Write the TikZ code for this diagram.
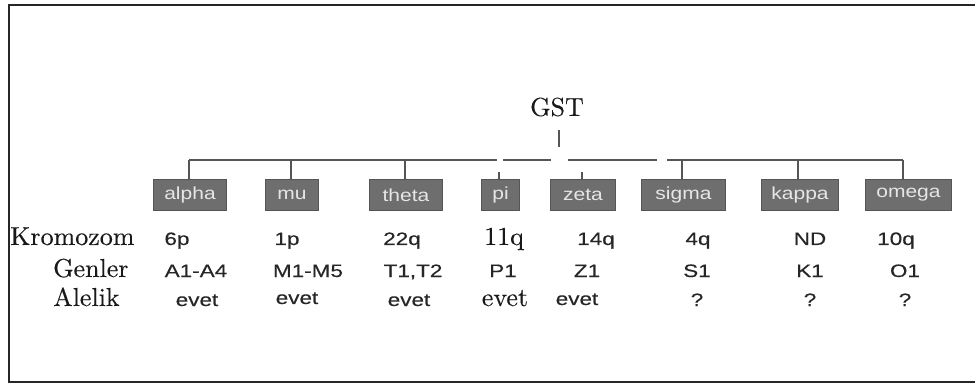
\documentclass[tikz,border=0pt]{standalone}
\usepackage{fontspec}
\usepackage{graphicx}
\setsansfont{Liberation Sans}
\newfontfamily\serifface{lmroman10-regular.otf}[FakeBold=0.2]
\newfontfamily\valface{Liberation Sans}[FakeBold=0.3]
\definecolor{boxfill}{HTML}{6E6E6E}
\definecolor{boxedge}{HTML}{555555}
\definecolor{boxtext}{HTML}{E6E6E6}
\definecolor{linecol}{HTML}{555555}
\begin{document}
\begin{tikzpicture}[x=1pt,y=-1pt,
  genebox/.style={fill=boxfill,draw=boxedge,line width=1pt,text=boxtext,
    minimum height=31pt,inner sep=0pt,anchor=north west,
    font=\sffamily\fontsize{17.5}{19}\selectfont},
  serifl/.style={inner sep=0pt,anchor=base,font=\serifface\fontsize{26}{30}\selectfont,text=black!90},
  rowlabel/.style={serifl,anchor=base west},
  val/.style={inner sep=0pt,anchor=base,font=\valface\fontsize{18}{20}\selectfont,text=black!85},
  tree/.style={draw=linecol,line width=1.3pt},
  frame/.style={draw=black!85,line width=2.2pt}]
\useasboundingbox (0,0) rectangle (975,390);
% frame (right side runs off the picture)
\coordinate (f1) at (985,5);
\coordinate (f2) at (9,5);
\coordinate (f3) at (9,382);
\coordinate (f4) at (985,382);
\draw[frame] (f1) -- (f2) -- (f3) -- (f4);
% root
\node[serifl,anchor=center] (gst) at (557,107) {GST};
\coordinate (s1) at (559,130);
\coordinate (s2) at (559,147);
\draw[tree] (s1) -- (s2);
% boxes
\node[genebox,minimum width=73pt] (alpha) at (153,179) {\scalebox{1.2}[1]{alpha}};
\node[genebox,minimum width=53pt] (mu) at (265,179) {\scalebox{1.2}[1]{mu}};
\node[genebox,minimum width=73pt] (theta) at (369,179) {\scalebox{1.2}[1]{theta}};
\node[genebox,minimum width=38pt] (pi) at (481,179) {\scalebox{1.2}[1]{pi}};
\node[genebox,minimum width=65pt] (zeta) at (550,179) {\scalebox{1.2}[1]{zeta}};
\node[genebox,minimum width=84pt] (sigma) at (641,179) {\scalebox{1.2}[1]{sigma}};
\node[genebox,minimum width=77pt] (kappa) at (761,179) {\scalebox{1.2}[1]{kappa}};
\node[genebox,minimum width=86pt] (omega) at (865,179) {\scalebox{1.2}[1]{omega}};
% horizontal bar, with the gaps it shows
\coordinate (bar) at (0,160);
\coordinate (g1) at (497,160);
\coordinate (g2) at (503,160);
\coordinate (g3) at (551,160);
\coordinate (g4) at (568,160);
\coordinate (g5) at (657,160);
\coordinate (g6) at (667,160);
\coordinate (ta) at (189,179);
\coordinate (tm) at (291,179);
\coordinate (tt) at (405,179);
\coordinate (tp) at (499,179);
\coordinate (tz) at (582,179);
\coordinate (ts) at (682,179);
\coordinate (tk) at (798,179);
\coordinate (to) at (903,179);
\coordinate (tpu) at (499,172);
\coordinate (tzu) at (582,172);
\draw[tree] (ta |- bar) -- (g1);
\draw[tree] (g2) -- (g3);
\draw[tree] (g4) -- (g5);
\draw[tree] (g6) -- (to |- bar);
\draw[tree] (ta |- bar) -- (ta);
\draw[tree] (tm |- bar) -- (tm);
\draw[tree] (tt |- bar) -- (tt);
\draw[tree] (tpu) -- (tp);
\draw[tree] (tzu) -- (tz);
\draw[tree] (ts |- bar) -- (ts);
\draw[tree] (tk |- bar) -- (tk);
\draw[tree] (to |- bar) -- (to);
% row labels
\node[rowlabel] (krom) at (10,245) {Kromozom};
\node[rowlabel] (gen) at (53,277) {Genler};
\node[rowlabel] (alel) at (53,306) {Alelik};
% row 1
\node[val] (k1) at (177,245) {\scalebox{1.25}[1]{6p}};
\node[val] (k2) at (287,245) {\scalebox{1.25}[1]{1p}};
\node[val] (k3) at (402,245) {\scalebox{1.25}[1]{22q}};
\node[serifl] (k4) at (504,245) {11q};
\node[val] (k5) at (596,245) {\scalebox{1.25}[1]{14q}};
\node[val] (k6) at (698,245) {\scalebox{1.25}[1]{4q}};
\node[val] (k7) at (810,245) {\scalebox{1.25}[1]{ND}};
\node[val] (k8) at (896,245) {\scalebox{1.25}[1]{10q}};
% row 2
\node[val] (n1) at (196,277) {\scalebox{1.25}[1]{A1-A4}};
\node[val] (n2) at (308,277) {\scalebox{1.25}[1]{M1-M5}};
\node[val] (n3) at (413,277) {\scalebox{1.25}[1]{T1,T2}};
\node[val] (n4) at (503,277) {\scalebox{1.25}[1]{P1}};
\node[val] (n5) at (587,277) {\scalebox{1.25}[1]{Z1}};
\node[val] (n6) at (697,277) {\scalebox{1.25}[1]{S1}};
\node[val] (n7) at (810,277) {\scalebox{1.25}[1]{K1}};
\node[val] (n8) at (905,277) {\scalebox{1.25}[1]{O1}};
% row 3
\node[val] (a1) at (197,306) {\scalebox{1.25}[1]{evet}};
\node[val] (a2) at (297,304) {\scalebox{1.25}[1]{evet}};
\node[val] (a3) at (409,306) {\scalebox{1.25}[1]{evet}};
\node[serifl] (a4) at (505,306) {evet};
\node[val] (a5) at (577,305) {\scalebox{1.25}[1]{evet}};
\node[val] (a6) at (697,306) {\scalebox{1.25}[1]{?}};
\node[val] (a7) at (810,306) {\scalebox{1.25}[1]{?}};
\node[val] (a8) at (905,306) {\scalebox{1.25}[1]{?}};
\end{tikzpicture}
\end{document}
